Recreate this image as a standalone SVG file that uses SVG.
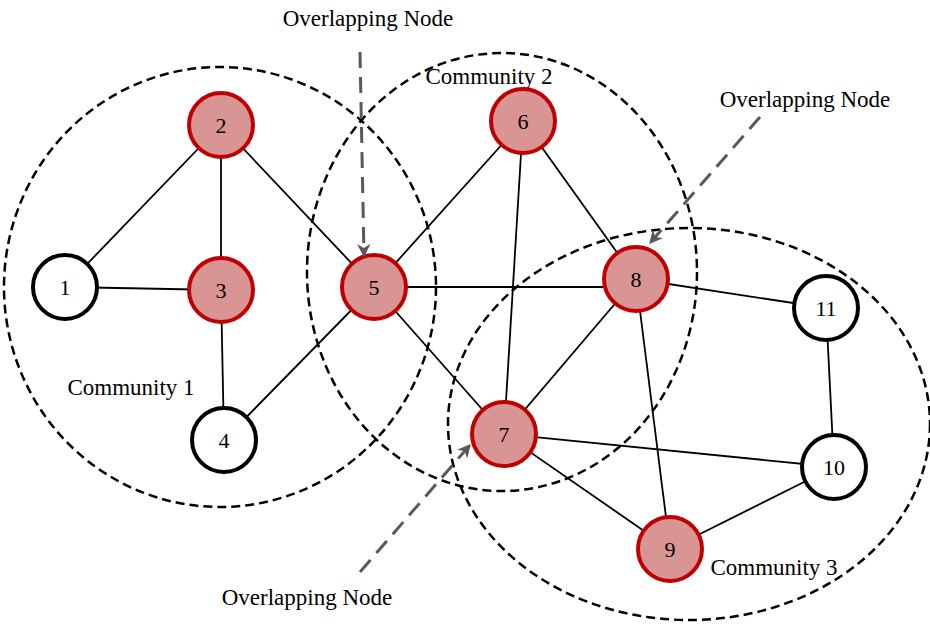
<svg xmlns="http://www.w3.org/2000/svg" width="930" height="625" viewBox="0 0 930 625">
<defs>
<style>
.comm{fill:none;stroke:#000;stroke-width:2.5;stroke-dasharray:9,5}
.edge{stroke:#000;stroke-width:1.8}
.red circle{fill:#d99594;stroke:#c00000;stroke-width:4}
.blk circle{fill:#fff;stroke:#000;stroke-width:4}
text{font-family:"Liberation Serif","Times New Roman",serif;font-size:23px;fill:#000}
.num{text-anchor:middle;dominant-baseline:central;font-size:22px}
.ov{stroke:#595959;stroke-width:3;stroke-dasharray:16,9;fill:none}
</style>
<marker id="ah" viewBox="0 0 10 10" refX="9" refY="5" markerWidth="4.5" markerHeight="4.5" orient="auto" markerUnits="strokeWidth">
<path d="M0,0 L10,5 L0,10 L3,5 z" fill="#595959"/>
</marker>
</defs>
<rect width="930" height="625" fill="#fff"/>
<g id="communities">
<ellipse class="comm" cx="220" cy="287" rx="216" ry="220"/>
<ellipse class="comm" cx="502" cy="272" rx="195" ry="219"/>
<ellipse class="comm" cx="689" cy="424" rx="241" ry="196"/>
<text x="131" y="395" text-anchor="middle">Community 1</text>
<text x="489" y="84" text-anchor="middle">Community 2</text>
<text x="774" y="575" text-anchor="middle">Community 3</text>
</g>
<g id="connectors">
<line class="edge" x1="65" y1="287" x2="221" y2="125"/>
<line class="edge" x1="65" y1="287" x2="221" y2="290"/>
<line class="edge" x1="221" y1="125" x2="221" y2="290"/>
<line class="edge" x1="221" y1="125" x2="374" y2="287"/>
<line class="edge" x1="221" y1="290" x2="224" y2="440"/>
<line class="edge" x1="224" y1="440" x2="374" y2="287"/>
<line class="edge" x1="374" y1="287" x2="523" y2="121"/>
<line class="edge" x1="374" y1="287" x2="636" y2="287"/>
<line class="edge" x1="374" y1="287" x2="504" y2="434"/>
<line class="edge" x1="523" y1="121" x2="504" y2="434"/>
<line class="edge" x1="523" y1="121" x2="636" y2="279"/>
<line class="edge" x1="636" y1="279" x2="504" y2="434"/>
<line class="edge" x1="636" y1="279" x2="670" y2="549"/>
<line class="edge" x1="636" y1="279" x2="826" y2="308"/>
<line class="edge" x1="504" y1="434" x2="834" y2="467"/>
<line class="edge" x1="504" y1="434" x2="670" y2="549"/>
<line class="edge" x1="670" y1="549" x2="834" y2="467"/>
<line class="edge" x1="826" y1="308" x2="834" y2="467"/>
</g>
<g id="node1" class="blk"><circle cx="65" cy="287" r="32"/><text class="num" x="65" y="287">1</text></g>
<g id="node2" class="red"><circle cx="221" cy="125" r="32"/><text class="num" x="221" y="125">2</text></g>
<g id="node3" class="red"><circle cx="221" cy="290" r="32"/><text class="num" x="221" y="290">3</text></g>
<g id="node4" class="blk"><circle cx="224" cy="440" r="32"/><text class="num" x="224" y="440">4</text></g>
<g id="node5" class="red"><circle cx="374" cy="287" r="32"/><text class="num" x="374" y="287">5</text></g>
<g id="node6" class="red"><circle cx="523" cy="121" r="32"/><text class="num" x="523" y="121">6</text></g>
<g id="node7" class="red"><circle cx="504" cy="434" r="32"/><text class="num" x="504" y="434">7</text></g>
<g id="node8" class="red"><circle cx="636" cy="279" r="32"/><text class="num" x="636" y="279">8</text></g>
<g id="node9" class="red"><circle cx="670" cy="549" r="32"/><text class="num" x="670" y="549">9</text></g>
<g id="node10" class="blk"><circle cx="834" cy="467" r="32"/><text class="num" x="834" y="467">10</text></g>
<g id="node11" class="blk"><circle cx="826" cy="308" r="32"/><text class="num" x="826" y="308">11</text></g>
<g id="annotations">
<text x="368" y="26" text-anchor="middle">Overlapping Node</text>
<text x="805" y="107" text-anchor="middle">Overlapping Node</text>
<text x="307" y="605" text-anchor="middle">Overlapping Node</text>
<line class="ov" x1="360" y1="52" x2="364" y2="256" marker-end="url(#ah)"/>
<line class="ov" x1="760" y1="117" x2="650" y2="243" marker-end="url(#ah)"/>
<line class="ov" x1="360" y1="572" x2="470" y2="445" marker-end="url(#ah)"/>
</g>
</svg>
